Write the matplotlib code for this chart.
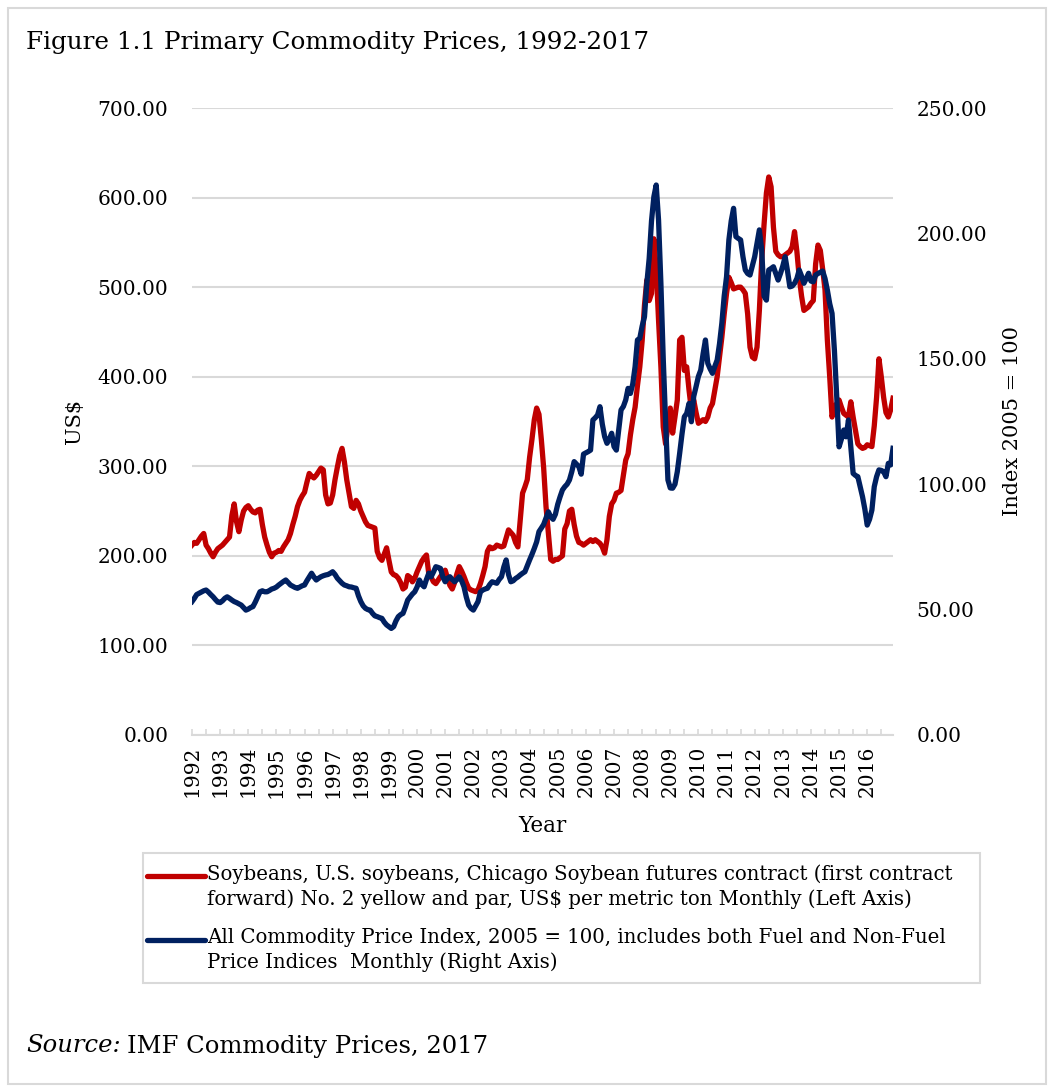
import matplotlib
matplotlib.use("Agg")
import matplotlib.pyplot as plt
from matplotlib.lines import Line2D
from matplotlib.patches import Rectangle
import numpy as np

# Monthly values, Jan 1992 - Dec 2016
soy_by_year = {
    1992: [212, 215, 214, 218, 222, 225, 212, 208, 203, 199, 204, 208],
    1993: [210, 212, 215, 218, 221, 245, 258, 238, 227, 240, 250, 254],
    1994: [256, 252, 249, 248, 251, 252, 235, 221, 212, 204, 199, 203],
    1995: [204, 206, 205, 210, 214, 218, 225, 235, 244, 255, 262, 267],
    1996: [271, 282, 292, 289, 287, 290, 294, 298, 296, 268, 258, 259],
    1997: [268, 285, 299, 312, 320, 305, 285, 270, 255, 253, 262, 258],
    1998: [250, 244, 238, 234, 233, 232, 231, 205, 198, 195, 202, 209],
    1999: [195, 182, 179, 178, 175, 170, 163, 165, 178, 176, 171, 175],
    2000: [182, 188, 194, 198, 201, 180, 176, 171, 169, 173, 177, 180],
    2001: [184, 175, 167, 163, 170, 180, 188, 183, 177, 170, 164, 162],
    2002: [161, 160, 162, 169, 178, 188, 205, 210, 208, 209, 212, 211],
    2003: [210, 211, 220, 229, 226, 223, 215, 210, 240, 270, 277, 285],
    2004: [310, 330, 352, 365, 358, 330, 298, 255, 225, 196, 194, 196],
    2005: [196, 198, 200, 230, 236, 250, 252, 235, 222, 215, 214, 212],
    2006: [214, 216, 218, 216, 218, 216, 214, 210, 203, 218, 244, 258],
    2007: [262, 270, 271, 273, 290, 307, 314, 335, 352, 366, 390, 411],
    2008: [440, 480, 508, 485, 493, 554, 520, 463, 411, 344, 325, 345],
    2009: [365, 337, 355, 374, 441, 444, 407, 411, 385, 363, 374, 360],
    2010: [348, 350, 352, 350, 355, 365, 370, 385, 400, 422, 444, 470],
    2011: [493, 511, 505, 498, 499, 500, 500, 497, 493, 470, 433, 422],
    2012: [420, 433, 474, 530, 570, 605, 623, 612, 567, 540, 536, 534],
    2013: [534, 536, 538, 540, 545, 562, 540, 511, 490, 474, 476, 478],
    2014: [482, 485, 526, 547, 541, 520, 497, 441, 400, 355, 366, 370],
    2015: [374, 366, 359, 357, 355, 372, 355, 340, 325, 322, 320, 321],
    2016: [324, 323, 322, 345, 377, 420, 400, 377, 360, 355, 363, 376],
}

index_by_year = {
    1992: [53.2, 54.5, 56.0, 56.5, 57.0, 57.5, 57.8, 57.0, 56.0, 55.1, 54.0, 53.0],
    1993: [52.8, 53.5, 54.5, 55.1, 54.5, 53.8, 53.2, 52.8, 52.3, 51.8, 50.8, 49.8],
    1994: [50.2, 50.8, 51.2, 53.0, 55.0, 57.1, 57.5, 57.1, 57.1, 57.6, 58.2, 58.5],
    1995: [59.0, 59.8, 60.5, 61.2, 61.8, 60.8, 59.8, 59.3, 58.8, 58.5, 59.0, 59.5],
    1996: [59.8, 61.5, 63.0, 64.5, 63.0, 61.8, 62.5, 63.1, 63.5, 63.8, 64.0, 64.5],
    1997: [65.1, 64.0, 62.5, 61.5, 60.5, 59.8, 59.5, 59.1, 59.0, 58.7, 58.5, 55.5],
    1998: [53.2, 51.5, 50.5, 50.0, 49.8, 48.5, 47.5, 47.2, 46.8, 46.5, 45.0, 43.9],
    1999: [43.2, 42.5, 43.2, 45.5, 47.2, 48.0, 48.5, 51.0, 53.8, 55.0, 56.2, 57.1],
    2000: [59.0, 61.8, 60.0, 59.1, 62.0, 64.5, 63.1, 65.0, 67.1, 66.8, 66.4, 63.0],
    2001: [61.1, 62.5, 63.1, 62.0, 61.1, 62.0, 63.1, 61.5, 59.1, 55.0, 51.8, 50.5],
    2002: [49.8, 51.5, 53.2, 57.0, 57.8, 58.2, 58.5, 60.0, 61.1, 60.8, 60.5, 62.0],
    2003: [63.1, 67.0, 69.8, 64.0, 61.1, 61.5, 62.4, 63.0, 63.8, 64.5, 65.1, 67.5],
    2004: [69.8, 72.0, 74.4, 77.0, 81.1, 82.5, 84.0, 86.5, 89.0, 87.0, 86.0, 88.0],
    2005: [92.0, 95.0, 97.7, 99.0, 100.0, 101.7, 105.0, 109.0, 108.0, 107.0, 104.0, 112.0],
    2006: [112.5, 113.0, 113.6, 125.6, 126.5, 127.6, 130.9, 124.0, 119.0, 116.3, 118.0, 120.3],
    2007: [115.0, 113.6, 121.6, 129.6, 131.0, 133.6, 138.2, 136.2, 140.0, 146.9, 157.5, 158.2],
    2008: [163.0, 166.8, 180.1, 190.0, 205.0, 214.6, 219.3, 205.3, 180.0, 150.0, 125.0, 101.7],
    2009: [98.5, 98.4, 100.0, 105.0, 112.3, 120.0, 126.9, 128.2, 132.2, 124.9, 135.0, 138.9],
    2010: [143.0, 145.5, 152.0, 157.5, 148.2, 146.0, 144.2, 147.0, 149.5, 156.0, 164.2, 175.0],
    2011: [182.7, 197.4, 205.0, 210.0, 198.7, 198.0, 197.4, 190.7, 185.4, 184.0, 183.4, 187.0],
    2012: [190.7, 196.0, 201.4, 193.4, 175.0, 173.4, 185.4, 186.0, 186.7, 184.0, 181.4, 184.0],
    2013: [187.0, 190.7, 185.0, 178.7, 179.0, 180.1, 182.0, 185.4, 183.0, 180.1, 182.0, 184.1],
    2014: [181.0, 180.7, 183.4, 184.0, 184.5, 185.0, 182.0, 177.4, 172.0, 168.1, 153.5, 134.9],
    2015: [114.9, 118.0, 121.6, 118.9, 125.6, 115.0, 104.3, 103.5, 103.0, 99.0, 95.0, 90.0],
    2016: [83.7, 86.0, 89.7, 99.0, 103.0, 105.7, 105.5, 105.0, 103.0, 108.3, 107.7, 114.3],
}

years = list(soy_by_year.keys())
soybeans = [v for y in years for v in soy_by_year[y]]
commodity_index = [v for y in years for v in index_by_year[y]]
left_ticks = [0, 100, 200, 300, 400, 500, 600, 700]
right_ticks = [0, 50, 100, 150, 200, 250]

soy_label = ("Soybeans, U.S. soybeans, Chicago Soybean futures contract (first contract\n"
             "forward) No. 2 yellow and par, US$ per metric ton Monthly (Left Axis)")
index_label = ("All Commodity Price Index, 2005 = 100, includes both Fuel and Non-Fuel\n"
               "Price Indices  Monthly (Right Axis)")

RED = "#C00000"
BLUE = "#002060"
GRID = "#D9D9D9"
FONT = "DejaVu Serif"

plt.rcParams["font.family"] = FONT

W, H = 1054, 1086
fig = plt.figure(figsize=(W / 100, H / 100), dpi=100)


def fx(px):
    return px / W


def fy(py):
    return 1 - py / H


# outer frame
fig.patches.append(Rectangle((fx(8), fy(1084)), fx(1046 - 8), (1084 - 8) / H,
                             transform=fig.transFigure, fill=False,
                             edgecolor=GRID, linewidth=1.5))

ax = fig.add_axes([fx(192), fy(735), fx(893 - 192), (735 - 108) / H])
ax2 = ax.twinx()

months = np.arange(len(soybeans))
ax.plot(months, soybeans, color=RED, linewidth=3.8, solid_joinstyle="round", zorder=3)
ax2.plot(months, commodity_index, color=BLUE, linewidth=3.8, solid_joinstyle="round", zorder=3)

ax.set_xlim(0, len(soybeans) - 1)
ax.set_ylim(0, 700)
ax2.set_ylim(0, 250)

ax.set_yticks(left_ticks)
ax.set_yticklabels([f"{t:.2f}" for t in left_ticks])
ax2.set_yticks(right_ticks)
ax2.set_yticklabels([f"{t:.2f}" for t in right_ticks])
ax.yaxis.grid(True, color=GRID, linewidth=1.5)
ax.set_axisbelow(True)

xt = list(range(0, len(soybeans), 6))
ax.set_xticks(xt)
ax.set_xticklabels([str(years[0] + t // 12) if t % 12 == 0 else "" for t in xt], rotation=90)

for a in (ax, ax2):
    for s in ("left", "right", "top", "bottom"):
        a.spines[s].set_visible(False)
ax.spines["bottom"].set_visible(True)
ax.spines["bottom"].set_color(GRID)
ax.spines["bottom"].set_linewidth(1.5)

ax.tick_params(axis="x", direction="in", length=4, width=1.2, color=GRID,
               labelsize=14.5, pad=8)
ax.tick_params(axis="y", length=0, labelsize=14.5, pad=17)
ax2.tick_params(axis="y", length=0, labelsize=14.5, pad=17)

ax.set_ylabel("US$", fontsize=15)
ax.yaxis.set_label_coords(fx(75 - 192) / fx(701), 0.5)
ax2.set_ylabel("Index 2005 = 100", fontsize=15)
ax2.yaxis.set_label_coords(fx(1013 - 192) / fx(701), 0.5)
ax.set_xlabel("Year", fontsize=15.5)
ax.xaxis.set_label_coords(0.5, -(826 - 735) / (735 - 108))
ax.xaxis.label.set_va("center")
ax.yaxis.label.set_va("center")
ax2.yaxis.label.set_va("center")

# title
fig.text(fx(26), fy(42), "Figure 1.1 Primary Commodity Prices, 1992-2017",
         fontsize=17.7, ha="left", va="center")

# legend box
fig.patches.append(Rectangle((fx(143), fy(983)), fx(980 - 143), (983 - 853) / H,
                             transform=fig.transFigure, fill=False,
                             edgecolor=GRID, linewidth=1.5))
for color, label, yline in [(RED, soy_label, 876), (BLUE, index_label, 940)]:
    fig.lines.append(Line2D([fx(147), fx(205)], [fy(yline), fy(yline)],
                            transform=fig.transFigure, color=color, linewidth=3.8,
                            solid_capstyle="round"))
    fig.text(fx(207), fy(yline - 12), label, fontsize=14.2, ha="left", va="top",
             linespacing=1.35)

# source line
src = fig.text(fx(26), fy(1046), "Source:", fontsize=17.5, style="italic",
               ha="left", va="center")
fig.canvas.draw()
bb = src.get_window_extent()
fig.text(bb.x1 / W + fx(6), fy(1046), "IMF Commodity Prices, 2017", fontsize=17.5,
         ha="left", va="center")

fig.savefig("out.png", dpi=100)
